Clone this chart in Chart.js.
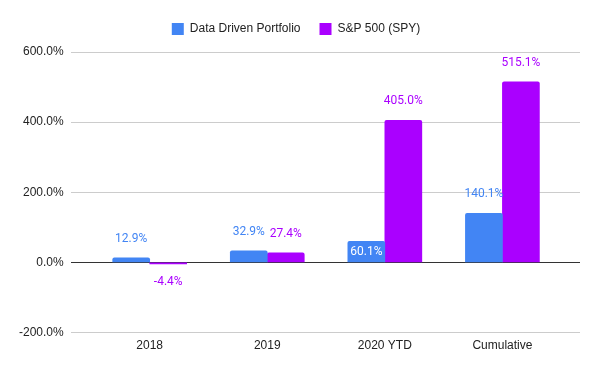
<!DOCTYPE html>
<html>
<head>
<meta charset="utf-8">
<script src="https://cdn.jsdelivr.net/npm/chart.js@4"></script>
<style>
  body { margin: 0; background: #fff; }
  canvas { display: block; }
</style>
</head>
<body>
<canvas id="chart" width="600" height="371"></canvas>
<script>
// Chart data
const categories = ['2018', '2019', '2020 YTD', 'Cumulative'];
const portfolioValues = [12.9, 32.9, 60.1, 140.1];
const spyValues = [-4.4, 27.4, 405.0, 515.1];
const yTicks = [-200, 0, 200, 400, 600];

const BLUE = '#4285f4';
const PURPLE = '#aa00ff';

// labels that sit inside the bar (white) instead of above it
const insideLabels = [[0, 2]];

const toPoints = values => values.map((v, i) => ({ x: i, y: v }));

// Draw the value labels above / below the bars
const valueLabels = {
  id: 'valueLabels',
  afterDatasetsDraw(chart) {
    const ctx = chart.ctx;
    ctx.save();
    ctx.font = '12px Roboto, Arial, sans-serif';
    ctx.textAlign = 'center';
    ctx.textBaseline = 'middle';
    chart.data.datasets.forEach((ds, di) => {
      const meta = chart.getDatasetMeta(di);
      meta.data.forEach((bar, i) => {
        const v = ds.data[i].y;
        const text = v.toFixed(1) + '%';
        let y;
        if (insideLabels.some(p => p[0] === di && p[1] === i)) {
          ctx.fillStyle = '#ffffff';
          y = bar.y + 11;
        } else {
          ctx.fillStyle = ds.backgroundColor;
          y = v >= 0 ? bar.y - 19 : bar.y + 18;
        }
        ctx.fillText(text, bar.x, y);
      });
    });
    ctx.restore();
  }
};

// extra room under the legend
const legendSpace = {
  id: 'legendSpace',
  beforeInit(chart) {
    const fit = chart.legend.fit;
    chart.legend.fit = function () {
      fit.bind(chart.legend)();
      this.height += 7;
    };
  }
};

const ctx = document.getElementById('chart').getContext('2d');
const chart = new Chart(ctx, {
  type: 'bar',
  data: {
    datasets: [
      {
        label: 'Data Driven Portfolio',
        data: toPoints(portfolioValues),
        backgroundColor: BLUE,
        barThickness: 37,
        borderRadius: 2,
        borderSkipped: 'start',
      },
      {
        label: 'S&P 500 (SPY)',
        data: toPoints(spyValues),
        backgroundColor: PURPLE,
        barThickness: 37,
        borderRadius: 2,
        borderSkipped: 'start',
      },
    ],
  },
  options: {
    responsive: false,
    animation: false,
    layout: { padding: { top: 4, right: 20, bottom: 12, left: 12 } },
    plugins: {
      legend: {
        display: true,
        position: 'top',
        labels: {
          boxWidth: 12,
          boxHeight: 12,
          padding: 19,
          color: '#222',
          font: { family: 'Arial, "Liberation Sans", sans-serif', size: 12 },
        },
      },
      tooltip: { enabled: false },
    },
    scales: {
      x: {
        type: 'linear',
        offset: false,
        bounds: 'data',
        min: -0.672,
        max: 3.66,
        grid: { display: false, drawTicks: false },
        border: { display: false },
        afterBuildTicks: scale => {
          scale.ticks = categories.map((c, i) => ({ value: i }));
        },
        ticks: {
          color: '#222',
          font: { family: 'Arial, "Liberation Sans", sans-serif', size: 12 },
          callback: value => categories[value] ?? '',
          padding: 6,
        },
      },
      y: {
        min: -200,
        max: 600,
        afterBuildTicks: scale => {
          scale.ticks = yTicks.map(v => ({ value: v }));
        },
        grid: {
          color: c => (c.tick && c.tick.value === 0 ? '#333333' : '#cccccc'),
          drawTicks: false,
        },
        border: { display: false },
        ticks: {
          color: '#222',
          padding: 7,
          font: { family: 'Arial, "Liberation Sans", sans-serif', size: 12 },
          callback: value => value.toFixed(1) + '%',
        },
      },
    },
  },
  plugins: [valueLabels, legendSpace],
});
</script>
</body>
</html>
